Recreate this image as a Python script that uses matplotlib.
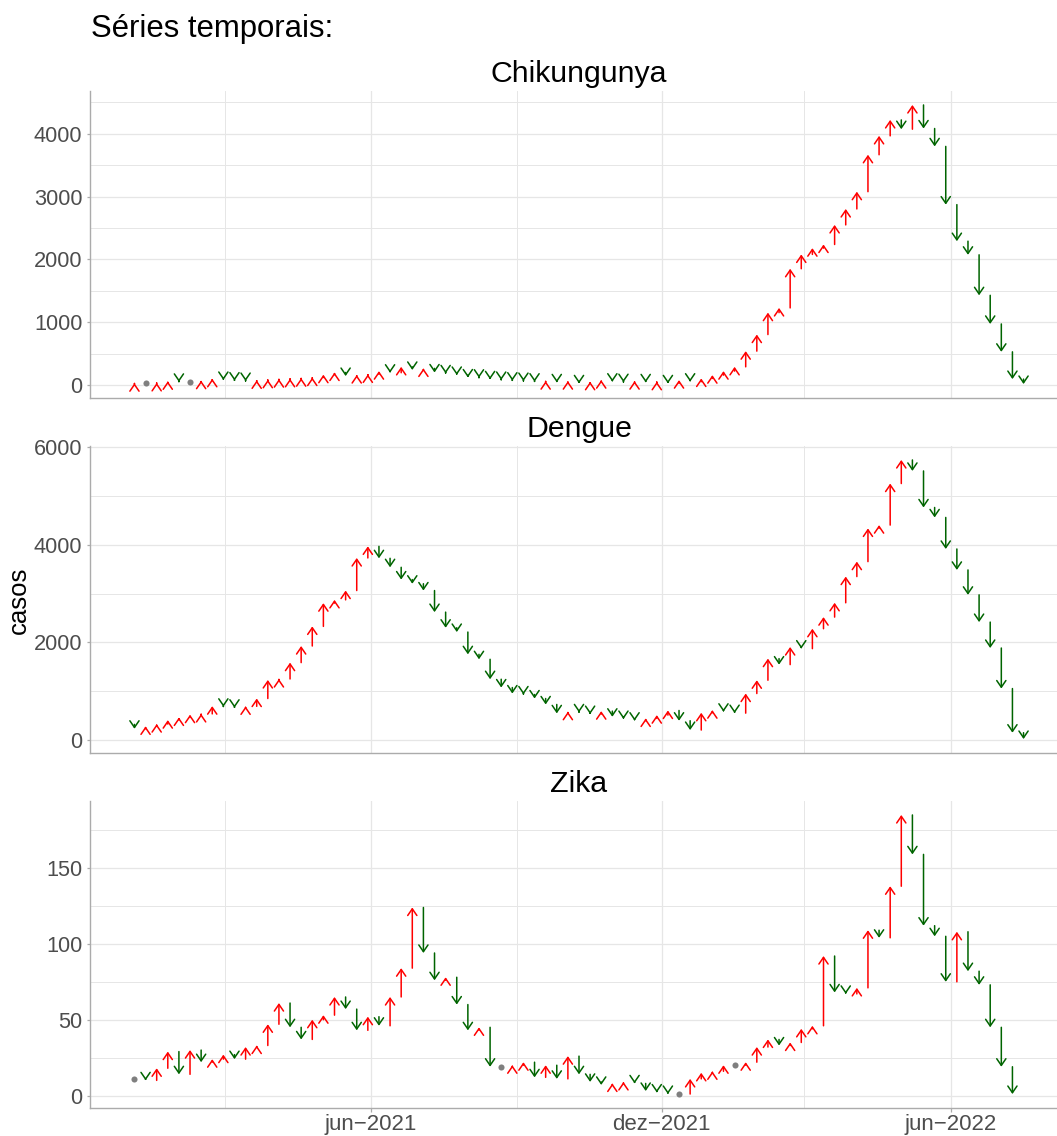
import numpy as np
import pandas as pd
import matplotlib
matplotlib.use('Agg')
import matplotlib.pyplot as plt
import matplotlib.dates as mdates
from matplotlib.patches import ArrowStyle
from matplotlib.ticker import MultipleLocator, FixedLocator, FixedFormatter

plt.rcParams['font.family'] = ['Liberation Sans', 'DejaVu Sans']

# ---------------- data ----------------
weeks = pd.date_range('2021-01-03', periods=81, freq='7D')

diseases = ['Chikungunya', 'Dengue', 'Zika']

chik_prev = 20
chik = [30, 30, 35, 60, 50, 50, 70, 100, 80, 70,
        63, 75, 85, 95, 100, 110, 120, 165, 200, 143,
        160, 170, 222, 196, 290, 240, 265, 200, 185, 160,
        120, 116, 90, 80, 69, 63, 53, 63, 42, 63,
        26, 53, 79, 53, 45, 63, 42, 53, 26, 79,
        53, 105, 158, 222, 290, 540, 804, 1153, 1228, 1852,
        2080, 2180, 2238, 2550, 2804, 3079, 3667, 3968, 4222, 4074,
        4460, 4085, 3800, 2873, 2291, 2074, 1429, 973, 529, 95,
        16]

dengue_prev = 320
dengue = [230, 280, 327, 408, 463, 520, 535, 694, 680, 660,
          690, 850, 1230, 1250, 1585, 1925, 2327, 2803, 2870, 3061,
          3728, 3966, 3721, 3537, 3286, 3200, 3061, 2619, 2299, 2211,
          1755, 1653, 1245, 1075, 952, 932, 850, 728, 545, 580,
          565, 530, 592, 476, 429, 395, 442, 510, 605, 395,
          204, 558, 612, 578, 550, 952, 1224, 1667, 1544, 1905,
          1871, 2279, 2517, 2810, 3347, 3653, 4333, 4401, 5252, 5735,
          5510, 4762, 4558, 3912, 3483, 2973, 2415, 1884, 1054, 150,
          20]

zika_prev = 11
zika = [11, 10, 18, 29, 14, 30, 22, 24, 27, 24,
        32, 33, 47, 61, 45, 37, 50, 53, 65, 57,
        43, 52, 46, 65, 84, 124, 94, 76, 78, 60,
        43, 45, 19, 19, 20, 22, 12, 20, 11, 26,
        14, 9, 7, 8, 9, 8, 3, 2, 1, 1,
        11, 15, 16, 20, 20, 22, 32, 37, 33, 35,
        44, 46, 92, 68, 67, 71, 109, 104, 138, 185,
        159, 112, 105, 75, 108, 82, 73, 45, 19, 1,
        np.nan]

series = [(chik_prev, chik), (dengue_prev, dengue), (zika_prev, zika)]
y_major = [1000, 2000, 50]
y_minor = [500, 1000, 25]

xtick_dates = ['2021-06-01', '2021-12-01', '2022-06-01']
xtick_labels = ['jun\u22122021', 'dez\u22122021', 'jun\u22122022']
xminor_dates = ['2021-03-01', '2021-09-01', '2022-03-01']

# ---------------- figure ----------------
W, H = 1057, 1136
fig = plt.figure(figsize=(W / 100, H / 100), dpi=100)
fig.patch.set_facecolor('white')

left_px, right_px = 90, 1068
panels_px = [(91, 398), (446, 753), (801, 1108)]

UP = '#FF0000'
DOWN = '#006400'
SAME = '#7F7F7F'
GRID = '#E6E6E6'
AXC = '#ABABAB'
TXT = '#4D4D4D'

xnum = mdates.date2num(weeks.to_pydatetime())
span = xnum[-1] - xnum[0]
xlim = (xnum[0] - 0.05 * span, xnum[-1] + 0.05 * span)

astyle = ArrowStyle('->', head_length=4.8, head_width=3.3)

axes = []
for k, (name, (p0, vals)) in enumerate(zip(diseases, series)):
    top, bot = panels_px[k]
    ax = fig.add_axes([left_px / W, 1 - bot / H, (right_px - left_px) / W, (bot - top) / H])
    axes.append(ax)
    vals = np.asarray(vals, dtype=float)
    prevs = np.concatenate([[p0], vals[:-1]])

    ymin = np.nanmin(np.concatenate([[p0], vals]))
    ymax = np.nanmax(np.concatenate([[p0], vals]))
    r = ymax - ymin
    ax.set_ylim(ymin - 0.05 * r, ymax + 0.05 * r)
    ax.set_xlim(*xlim)

    for xd, p, v in zip(xnum, prevs, vals):
        if np.isnan(v) or np.isnan(p):
            continue
        if v == p:
            ax.plot([xd], [v], 'o', color=SAME, ms=4.4, mec='none', zorder=3)
        else:
            col = UP if v > p else DOWN
            ax.annotate('', xy=(xd, v), xytext=(xd, p),
                        arrowprops=dict(arrowstyle=astyle, mutation_scale=1,
                                        color=col, lw=1.1, shrinkA=0, shrinkB=0),
                        zorder=3)

    ax.yaxis.set_major_locator(MultipleLocator(y_major[k]))
    ax.yaxis.set_minor_locator(MultipleLocator(y_minor[k]))
    ax.xaxis.set_major_locator(FixedLocator(mdates.date2num(pd.to_datetime(xtick_dates).to_pydatetime())))
    ax.xaxis.set_minor_locator(FixedLocator(mdates.date2num(pd.to_datetime(xminor_dates).to_pydatetime())))
    ax.xaxis.set_major_formatter(FixedFormatter(xtick_labels))

    ax.grid(True, which='major', color=GRID, lw=0.9, zorder=0)
    ax.grid(True, which='minor', color=GRID, lw=0.7, zorder=0)
    ax.set_axisbelow(True)

    for s in ['top', 'right']:
        ax.spines[s].set_visible(False)
    for s in ['left', 'bottom']:
        ax.spines[s].set_color(AXC)
        ax.spines[s].set_linewidth(1.0)

    ax.tick_params(axis='y', which='major', length=2.4, width=0.9, color=AXC,
                   labelsize=15.7, labelcolor=TXT, pad=3)
    ax.tick_params(axis='both', which='minor', length=0)
    if k == 2:
        ax.tick_params(axis='x', which='major', length=2.6, width=0.9, color=AXC,
                       labelsize=16, labelcolor=TXT, pad=1.5)
    else:
        ax.tick_params(axis='x', which='major', length=0, labelbottom=False)

    ax.text(0.5, 1 + 9 / (bot - top), name, transform=ax.transAxes,
            ha='center', va='baseline', fontsize=21.8, color='black')

fig.text(91 / W, 1 - 36.7 / H, 'Séries temporais:', fontsize=22.4, ha='left', va='baseline')
fig.text(19 / W, 1 - 600 / H, 'casos', fontsize=18.5, rotation=90, ha='center', va='center')

fig.savefig('out.png', dpi=100, facecolor='white')
